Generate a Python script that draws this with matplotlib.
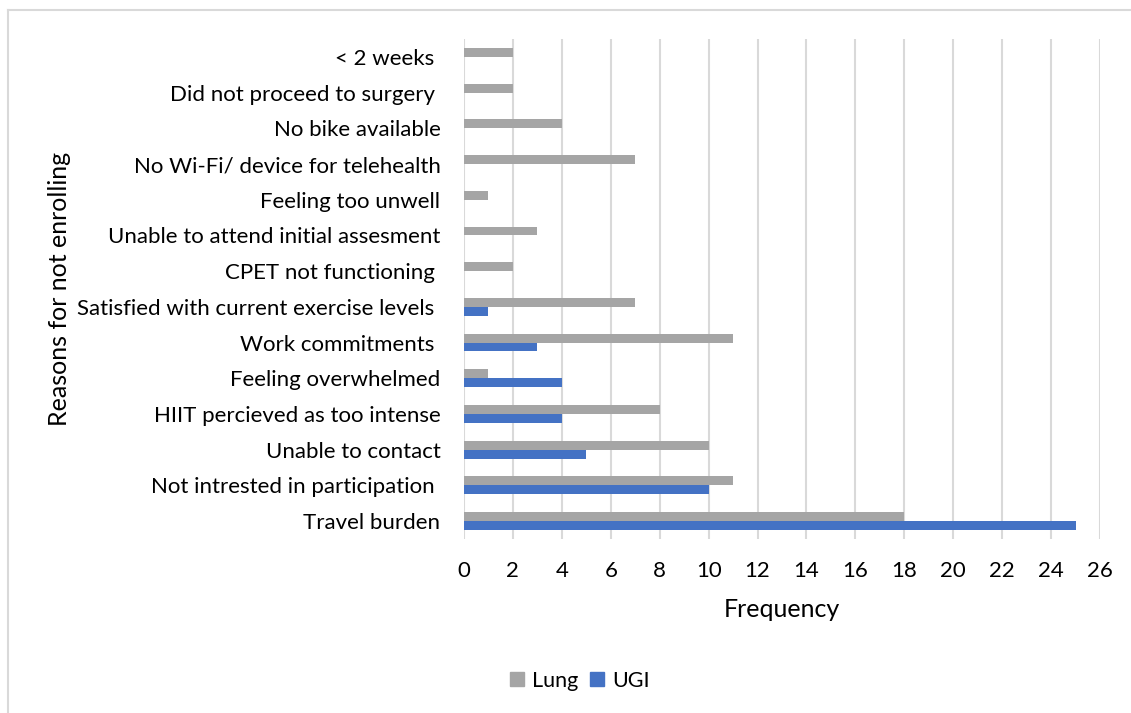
import matplotlib
matplotlib.use("Agg")
import matplotlib.pyplot as plt
import numpy as np
from matplotlib.lines import Line2D

plt.rcParams['font.family'] = ['Lato', 'DejaVu Sans']

categories = [
    "< 2 weeks ",
    "Did not proceed to surgery ",
    "No bike available",
    "No Wi-Fi/ device for telehealth",
    "Feeling too unwell",
    "Unable to attend initial assesment",
    "CPET not functioning ",
    "Satisfied with current exercise levels ",
    "Work commitments ",
    "Feeling overwhelmed",
    "HIIT percieved as too intense",
    "Unable to contact",
    "Not intrested in participation ",
    "Travel burden",
]
lung = [2, 2, 4, 7, 1, 3, 2, 7, 11, 1, 8, 10, 11, 18]
ugi = [0, 0, 0, 0, 0, 0, 0, 1, 3, 4, 4, 5, 10, 25]
xticks = list(range(0, 27, 2))

LUNG_COLOR = "#A5A5A5"
UGI_COLOR = "#4472C4"
GRID_COLOR = "#D9D9D9"

fig = plt.figure(figsize=(11.31, 7.13), dpi=100)
ax = fig.add_axes([464 / 1131, 174.2 / 713, 636 / 1131, 499.6 / 713])

n = len(categories)
pos = np.arange(n)
h = 0.25
ax.barh(pos - h / 2, lung, height=h, color=LUNG_COLOR, label="Lung", zorder=3)
ax.barh(pos + h / 2, ugi, height=h, color=UGI_COLOR, label="UGI", zorder=3)

ax.set_ylim(n - 0.5, -0.5)
ax.set_xlim(0, 26)
ax.set_xticks(xticks)
ax.set_yticks(pos)
ax.set_yticklabels(categories)

ax.grid(axis="x", color=GRID_COLOR, linewidth=1.5, zorder=0)
for s in ax.spines.values():
    s.set_visible(False)
ax.tick_params(axis="both", length=0, labelsize=16, colors="black")
ax.tick_params(axis="y", pad=17)
ax.tick_params(axis="x", pad=16)

ax.set_xlabel("Frequency", fontsize=18, labelpad=12)
fig.text(60 / 1131, 1 - 289 / 713, "Reasons for not enrolling", rotation=90,
         fontsize=18, ha="center", va="center")

handles = [
    Line2D([], [], marker="s", linestyle="none", markersize=10,
           markerfacecolor=LUNG_COLOR, markeredgecolor=LUNG_COLOR),
    Line2D([], [], marker="s", linestyle="none", markersize=10,
           markerfacecolor=UGI_COLOR, markeredgecolor=UGI_COLOR),
]
fig.legend(handles, ["Lung", "UGI"], loc="center", ncol=2,
           bbox_to_anchor=(580 / 1131, 1 - 681 / 713), frameon=False,
           fontsize=15.5, handlelength=0.6, handletextpad=0.4,
           columnspacing=0.6)

# chart frame
fig.add_artist(Line2D([8 / 1131, 8 / 1131], [0, 1 - 10 / 713],
                      transform=fig.transFigure, color=GRID_COLOR, linewidth=1.5))
fig.add_artist(Line2D([8 / 1131, 1], [1 - 10 / 713, 1 - 10 / 713],
                      transform=fig.transFigure, color=GRID_COLOR, linewidth=1.5))

fig.savefig("out.png", dpi=100)
